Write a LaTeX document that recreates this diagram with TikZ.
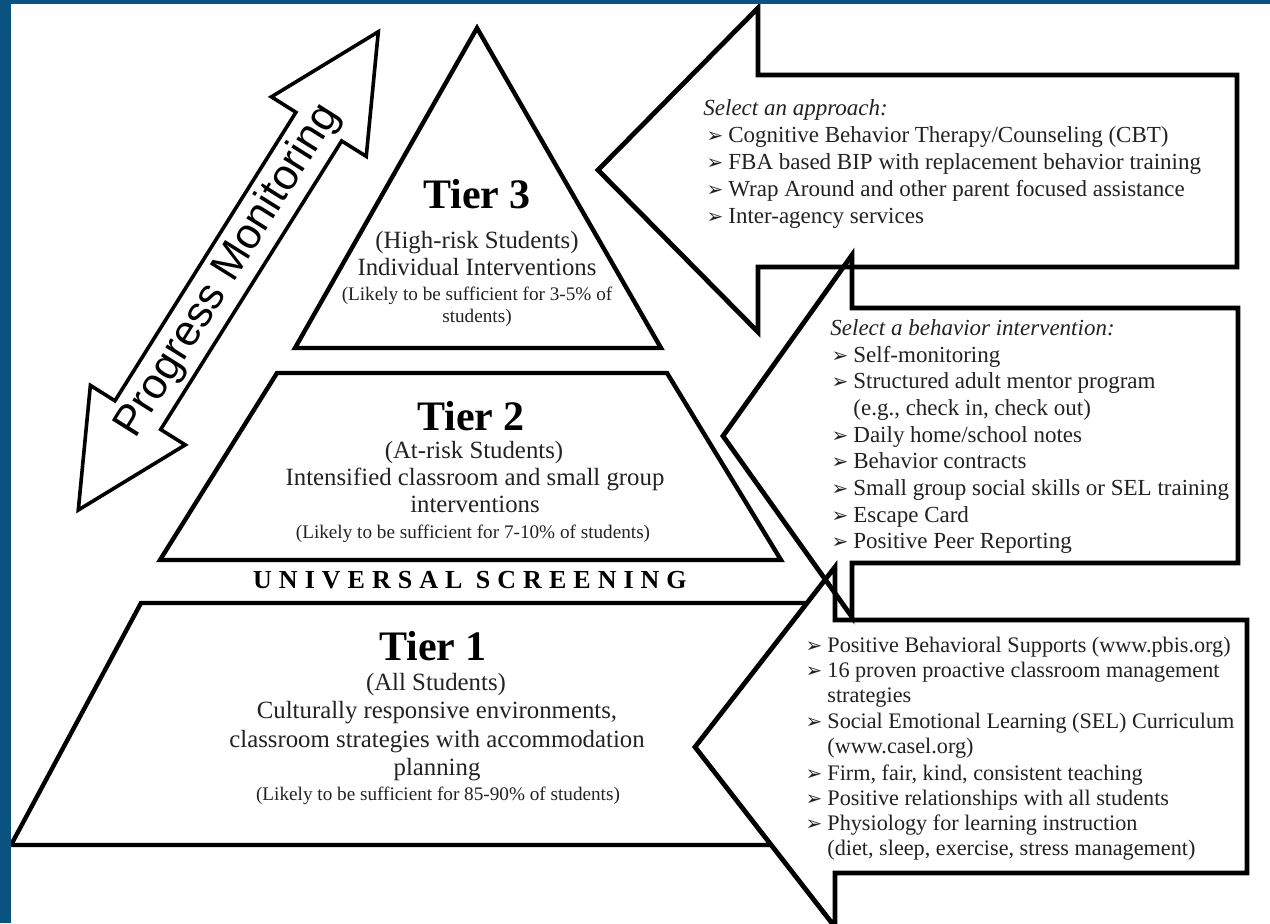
\documentclass[tikz,border=0pt]{standalone}
\usepackage{fontspec}
\usepackage{xcolor}
\usepackage{tikz}
\setmainfont{Liberation Serif}
\newfontfamily\pmfont{Liberation Sans}
\newfontfamily\dingfont{DejaVu Sans}
\newfontfamily\screenfont[LetterSpace=27]{Liberation Serif}
\definecolor{frameblue}{RGB}{10, 82, 128}
\definecolor{inkgray}{RGB}{34, 34, 34}
\newcommand{\bul}{\llap{{\dingfont\fontsize{10}{10}\selectfont ➢}\hspace{2.5pt}}}

\begin{document}
\begin{tikzpicture}[x=0.5pt, y=-0.5pt,
  tierline/.style={draw=black, fill=white, line width=2.2pt},
  arrowline/.style={draw=black, line width=2.4pt},
  pmline/.style={draw=black, line width=1.8pt, fill=white},
  tiername/.style={font=\fontsize{21}{24}\selectfont\bfseries, inner sep=0pt, anchor=base},
  body/.style={font=\fontsize{12.4}{14}\selectfont, text=inkgray, inner sep=0pt, anchor=base},
  note/.style={font=\fontsize{9.6}{11}\selectfont, text=inkgray, inner sep=0pt, anchor=base},
  listline/.style={font=\fontsize{11.5}{13}\selectfont, text=inkgray, inner sep=0pt, anchor=base west},
  listhead/.style={listline, font=\fontsize{11.5}{13}\selectfont\itshape}]

  \useasboundingbox (0,0) rectangle (1270,923);

  \draw[tierline] (477,28) -- (661,348) -- (295,348) -- cycle;
  \draw[tierline] (277,373) -- (667,373) -- (781,560) -- (160,560) -- cycle;
  \draw[tierline] (141,603) -- (825,603) -- (800,845) -- (11,845) -- cycle;

  \foreach \tx/\ty/\bx/\ba/\sa/\sb/\bb/\rx in {598/170/758/8/75/267/332/1237,
                                              723/436/852/255/308/563/617/1238,
                                              695/747/835/567/620/873/927/1247}
    \fill[white] (\tx,\ty) -- (\bx,\ba) -- (\bx,\sa) -- (\rx,\sa) -- (\rx,\sb) -- (\bx,\sb) -- (\bx,\bb) -- cycle;
  \foreach \tx/\ty/\bx/\ba/\sa/\sb/\bb/\rx in {598/170/758/8/75/267/332/1237,
                                              723/436/852/255/308/563/617/1238,
                                              695/747/835/567/620/873/927/1247}
    \draw[arrowline] (\tx,\ty) -- (\bx,\ba) -- (\bx,\sa) -- (\rx,\sa) -- (\rx,\sb) -- (\bx,\sb) -- (\bx,\bb) -- cycle;

  \begin{scope}[shift={(78.3,510)}, rotate=57.9]
    \draw[pmline] (0,0) -- (112,-56) -- (112,-27) -- (452.6,-27) -- (452.6,-56) -- (564.6,0)
      -- (452.6,56) -- (452.6,27) -- (112,27) -- (112,56) -- cycle;
    \node[transform shape, font=\pmfont\fontsize{21.5}{24}\selectfont, inner sep=0pt] (progress) at (282.3,0) {Progress Monitoring};
  \end{scope}

  \node[tiername] (tierthree) at (477,208) {Tier 3};
  \node[body] (highrisk) at (477,248) {(High-risk Students)};
  \node[body] (individual) at (477,275) {Individual Interventions};
  \node[note] (likelythree) at (477,300) {(Likely to be sufficient for 3-5\% of};
  \node[note] (likelythreeb) at (477,322) {students)};

  \node[tiername] (tiertwo) at (471,430) {Tier 2};
  \node[body] (atrisk) at (474,458) {(At-risk Students)};
  \node[body] (intensified) at (475,485) {Intensified classroom and small group};
  \node[body] (interventions) at (475,512) {interventions};
  \node[note] (likelytwo) at (473,538) {(Likely to be sufficient for 7-10\% of students)};

  \node[font=\screenfont\bfseries\fontsize{13}{15}\selectfont, inner sep=0pt, anchor=base] (screening) at (470,588) {UNIVERSAL SCREENING};

  \node[tiername] (tierone) at (433,660) {Tier 1};
  \node[body] (allstudents) at (436,690) {(All Students)};
  \node[body] (culturally) at (437,718) {Culturally responsive environments,};
  \node[body] (strategies) at (437,747) {classroom strategies with accommodation};
  \node[body] (planning) at (437,775) {planning};
  \node[note] (likelyone) at (438,800) {(Likely to be sufficient for 85-90\% of students)};

  \node[listhead] (approach) at (703,115) {Select an approach:};
  \foreach \y/\txt [count=\i] in {142/{\bul Cognitive Behavior Therapy/Counseling (CBT)},
                                 169/{\bul FBA based BIP with replacement behavior training},
                                 196/{\bul Wrap Around and other parent focused assistance},
                                 223/{\bul Inter-agency services}}
    \node[listline] (approach\i) at (728,\y) {\txt};

  \node[listhead] (behavior) at (830,335) {Select a behavior intervention:};
  \foreach \y/\txt [count=\i] in {362/{\bul Self-monitoring},
                                 388/{\bul Structured adult mentor program},
                                 415/{(e.g., check in, check out)},
                                 442/{\bul Daily home/school notes},
                                 468/{\bul Behavior contracts},
                                 495/{\bul Small group social skills or SEL training},
                                 522/{\bul Escape Card},
                                 548/{\bul Positive Peer Reporting}}
    \node[listline] (behavior\i) at (853,\y) {\txt};

  \foreach \y/\txt [count=\i] in {652/{\bul Positive Behavioral Supports (www.pbis.org)},
                                 677/{\bul 16 proven proactive classroom management},
                                 702/{strategies},
                                 728/{\bul Social Emotional Learning (SEL) Curriculum},
                                 753/{(www.casel.org)},
                                 780/{\bul Firm, fair, kind, consistent teaching},
                                 805/{\bul Positive relationships with all students},
                                 830/{\bul Physiology for learning instruction},
                                 855/{(diet, sleep, exercise, stress management)}}
    \node[listline, font=\fontsize{11.1}{13}\selectfont] (universal\i) at (827,\y) {\txt};

  \fill[frameblue] (0,0) rectangle (11,923);
  \fill[frameblue] (0,0) rectangle (1270,4);

\end{tikzpicture}
\end{document}
